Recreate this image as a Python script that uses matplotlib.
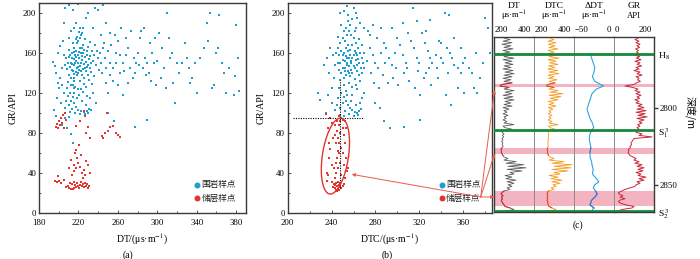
import numpy as np
import matplotlib
matplotlib.use('Agg')
import matplotlib.pyplot as plt
from matplotlib.patches import FancyArrowPatch
from matplotlib.ticker import FixedLocator

plt.rcParams['font.family'] = ['Liberation Serif', 'Noto Sans CJK SC']
plt.rcParams['mathtext.fontset'] = 'stix'

# ---------------- data: panel (a)  (DT, GR) ----------------
blue_a = [
    (212,150),(215,148),(218,152),(220,150),(222,147),(224,153),(226,149),(219,145),(221,155),(217,158),
    (223,160),(225,144),(227,156),(214,142),(216,139),(220,140),(228,151),(230,148),(213,155),(211,146),
    (218,162),(222,165),(226,163),(229,158),(231,154),(233,150),(210,138),(212,135),(216,132),(224,138),
    (228,142),(232,145),(235,152),(236,158),(234,162),(230,166),(225,168),(219,170),(215,165),(213,160),
    (209,150),(208,144),(211,158),(224,157),(220,158),(217,150),(223,150),(221,143),(219,138),(226,135),
    (230,138),(233,141),(238,148),(240,155),(239,162),(237,168),(232,171),(227,174),(222,175),(218,174),
    (214,170),(210,163),(207,155),(206,148),(221,161),(216,154),(225,160),(229,146),(213,149),(218,141),
    (215,135),(222,132),(226,129),(231,133),(236,137),(241,143),(243,150),(242,160),(245,165),(244,140),
    (220,172),(223,178),(221,181),(225,185),(219,176),(212,128),(217,126),(223,124),(228,126),(234,129),
    (213,143),(227,145),(224,165),(216,161),(210,156),(229,162),(232,157),(220,146),(218,156),(223,142),
    (208,125),(211,120),(214,116),(212,112),(210,108),(215,110),(218,106),(220,103),(223,102),(226,101),
    (229,102),(231,104),(228,108),(224,112),(219,115),(216,120),(221,118),(225,121),(209,117),(207,112),
    (206,105),(213,104),(217,100),(222,99),(227,99),(230,100),(233,103),(211,101),(205,120),(203,128),
    (215,125),(220,124),(232,115),(235,120),(238,110),(229,117),(209,131),(214,128),(206,95),(210,96),
    (194,151),(196,147),(197,140),(199,130),(200,125),(201,135),(203,145),(195,103),(197,97),(199,160),
    (201,167),(204,172),(198,115),(202,110),(205,158),(203,88),(208,85),(212,79),(214,70),
    (205,190),(206,205),(210,208),(214,203),(216,185),(218,190),(220,209),(222,185),(224,180),(228,195),
    (230,200),(235,185),(237,205),(240,203),(243,178),(248,190),(252,180),(245,208),(212,182),(210,175),
    (246,170),(250,162),(252,150),(255,145),(258,160),(260,172),(262,140),(265,150),(268,158),(270,165),
    (272,145),(275,135),(278,150),(280,160),(282,175),(285,145),(288,155),(290,150),(292,140),(295,160),
    (298,175),(300,152),(248,130),(250,120),(255,132),(260,128),(265,118),(270,130),(277,140),(283,182),
    (287,185),(293,170),(297,150),(257,178),(263,185),(268,175),(273,182),(248,145),(252,138),(247,155),
    (253,168),(258,150),(262,158),(266,142),(276,155),(281,148),(289,138),(294,132),(299,128),(256,92),
    (290,93),(277,86),(250,100),
    (302,180),(305,165),(307,145),(310,200),(312,175),(315,160),(316,130),(318,110),(320,150),(322,140),
    (328,170),(330,155),(332,145),(335,135),(338,150),(340,120),(343,155),(347,165),(350,190),(351,172),
    (353,200),(355,125),(358,128),(360,160),(362,165),(363,198),(366,150),(368,140),(370,120),(373,145),
    (378,118),(379,137),(380,188),(382,155),(383,122),(304,135),(309,125),(313,155),(325,150),(333,130),
]
red_a = [
    (207,26),(209,27),(210,25),(212,24),(214,24),(216,25),(218,26),(220,27),(222,28),(224,27),
    (226,26),(228,27),(230,25),(231,27),(221,25),(225,29),(213,29),(215,31),(211,30),(219,30),
    (223,31),(227,30),(229,29),(217,28),
    (196,32),(198,31),(200,32),(202,30),(199,37),(205,33),
    (213,38),(216,42),(218,45),(215,48),(220,50),(222,46),(224,40),(226,43),(228,52),(230,48),
    (219,55),(217,60),(218,63),(221,68),(223,58),(210,45),(212,53),(225,35),(227,38),(232,40),
    (197,86),(199,85),(201,88),(203,90),(202,95),(204,98),(206,100),(200,92),(198,89),(205,85),(207,93),
    (218,87),(222,92),(226,102),(227,97),(230,86),(228,80),(232,75),(245,75),(247,80),(250,82),
    (252,86),(255,87),(249,100),(258,80),(260,78),(262,76),(244,77),
]

# ---------------- data: panel (b)  (DTC, GR) ----------------
blue_b = [
    (248,150),(250,145),(252,152),(254,148),(256,155),(258,150),(260,147),(262,153),(251,160),(253,165),
    (255,162),(257,158),(259,168),(261,162),(263,158),(265,150),(249,140),(251,135),(253,138),(255,142),
    (257,137),(259,140),(261,134),(263,142),(265,138),(247,158),(246,165),(248,170),(250,175),(252,172),
    (254,178),(256,182),(258,178),(260,175),(262,170),(264,165),(266,160),(268,155),(267,145),(269,150),
    (252,145),(254,155),(256,147),(258,143),(260,158),(250,153),(255,168),(261,145),(263,148),(257,163),
    (249,162),(253,157),(259,155),(262,160),(264,154),(246,150),(247,143),(248,133),(251,128),(256,130),
    (259,126),(262,128),(266,132),(268,140),(270,145),(272,152),(270,160),(268,168),(265,174),(261,182),
    (257,188),(255,192),(259,194),(262,185),(253,185),(251,182),(249,188),(246,176),(244,160),(243,148),
    (250,158),(254,150),(258,152),(256,140),(252,142),
    (247,125),(249,120),(251,116),(253,112),(255,108),(257,105),(259,103),(261,101),(263,100),(265,102),
    (267,104),(262,108),(258,112),(254,118),(250,110),(248,105),(252,102),(256,99),(260,97),(264,98),
    (266,110),(268,115),(270,120),(246,115),(245,108),(251,97),(253,122),(259,118),(263,124),(248,98),
    (228,120),(229,113),(233,148),(236,155),(238,140),(240,125),(242,135),(239,165),(241,158),(237,118),
    (235,100),(243,103),(240,110),
    (251,202),(254,207),(257,210),(260,205),(262,200),(248,200),(255,198),(263,195),(266,190),(270,185),
    (273,182),(275,178),(278,188),(281,175),
    (275,165),(278,158),(280,150),(282,145),(285,160),(288,170),(290,165),(292,155),(295,148),(298,160),
    (300,175),(302,168),(305,158),(308,150),(310,180),(312,172),(315,165),(318,155),(320,150),(322,180),
    (325,170),(328,162),(330,155),(332,150),(335,158),(338,172),(340,155),(342,150),(345,165),(348,160),
    (350,155),(352,148),(355,145),(358,140),(360,150),(362,155),(365,145),(368,140),(370,125),(372,160),
    (375,135),(378,150),(380,195),(383,185),(384,160),(343,200),(347,198),(330,193),(314,205),(276,140),
    (279,130),(283,125),(287,138),(291,130),(296,135),(301,128),(306,140),(311,132),(316,125),(321,118),
    (326,140),(331,128),(337,135),(344,118),(349,108),(355,125),(361,120),(373,120),(284,105),(288,92),
    (293,85),(306,86),(321,93),(280,110),(285,185),(295,185),(305,190),(318,192),(326,182),(340,170),
    (352,175),(358,165),(336,145),(324,135),(299,145),(289,150),(309,145),(319,142),(329,145),(346,140),
]
red_b = [
    (241,26),(243,25),(244,23),(245,27),(246,24),(247,28),(248,26),(249,25),(250,27),(242,29),
    (244,30),(246,31),(248,30),(245,22),(243,28),(247,23),(251,29),(240,31),
    (243,35),(244,40),(246,45),(248,50),(245,55),(247,60),(249,65),(244,70),(246,75),(248,80),
    (250,85),(247,88),(245,92),(249,95),(243,88),(251,78),(252,70),(250,60),(253,55),(251,48),
    (254,42),(252,35),(249,38),(246,62),(244,50),(242,45),(247,70),(248,92),(250,93),(245,82),
    (243,78),(241,75),
    (236,32),(237,38),(238,55),(239,64),(240,48),(236,40),(238,70),(237,85),(240,90),(239,95),
    (235,99),(247,97),(252,92),(253,85),(255,45),
]
xticks_a = [180, 220, 260, 300, 340, 380]
xticks_b = [200, 240, 280, 320, 360]
yticks = [0, 40, 80, 120, 160, 200]

# ---------------- data: panel (c) well logs ----------------
depth_top, depth_bottom = 2755, 2867
dt_log = [250, 280, 245, 290, 240,
          285, 250, 295, 245, 280, 240, 285, 250, 300, 245,
          290, 255, 295, 250, 285, 245, 295, 255, 300, 250,
          290, 245, 285, 250, 290, 240, 230, 275, 250, 300,
          255, 290, 245, 295, 250, 300, 255, 285, 250, 290,
          245, 275, 250, 265, 245, 270, 250, 260, 245, 265,
          250, 300, 245, 255, 290, 245, 240, 250, 242, 248,
          240, 245, 238, 244, 240, 246, 240, 235, 238, 236,
          240, 245, 250, 270, 250, 310, 260, 350, 270, 360,
          265, 340, 280, 300, 255, 290, 260, 310, 265, 300,
          270, 290, 265, 280, 250, 240, 235, 245, 238, 242,
          236, 240, 245, 250, 255, 280, 300, 260]
dtc_log = [275, 300, 270, 310, 272,
           305, 275, 320, 270, 300, 272, 315, 275, 325, 270,
           310, 278, 320, 272, 305, 270, 318, 275, 325, 270,
           300, 272, 315, 275, 305, 270, 262, 300, 275, 320,
           280, 345, 275, 335, 280, 320, 272, 300, 275, 310,
           272, 295, 275, 285, 272, 290, 275, 285, 270, 290,
           275, 320, 272, 280, 305, 272, 270, 274, 271, 273,
           270, 272, 269, 271, 270, 272, 268, 266, 268, 266,
           270, 272, 280, 300, 275, 350, 290, 390, 300, 385,
           290, 370, 300, 330, 275, 320, 285, 340, 290, 330,
           295, 310, 285, 300, 272, 268, 265, 270, 266, 268,
           265, 270, 268, 272, 275, 290, 310, 280]
gr_log = [120, 105, 125, 110, 130,
          115, 128, 108, 122, 112, 125, 100, 128, 112, 135,
          105, 130, 115, 138, 110, 125, 100, 130, 115, 140,
          110, 125, 118, 132, 112, 100, 55, 95, 120, 105,
          130, 110, 135, 115, 128, 105, 125, 110, 140, 120,
          150, 115, 160, 110, 155, 120, 165, 115, 150, 125,
          140, 118, 130, 115, 125, 120, 110, 140, 125, 190,
          100, 95, 90, 85, 88, 80, 82, 72, 75, 70,
          74, 80, 95, 110, 100, 125, 105, 140, 115, 150,
          120, 145, 110, 135, 120, 160, 125, 150, 115, 130,
          110, 105, 80, 55, 40, 22, 25, 45, 30, 55,
          28, 22, 35, 60, 100, 90, 40, 20]
ddt_depth = [2765, 2768, 2771, 2774, 2777, 2780, 2783, 2786, 2788, 2791,
             2795, 2798, 2801, 2804, 2807, 2810, 2813, 2815, 2817, 2820,
             2823, 2826, 2829, 2832, 2835, 2837, 2840, 2843, 2846, 2848,
             2850, 2852, 2854, 2856, 2858, 2860, 2863, 2865, 2866]
ddt_log = [-29.6, -28, -26, -24, -25, -27, -24, -13, -22, -27.5,
           -30, -32, -33.7, -32, -30, -27, -25.4, -28, -30, -31,
           -30, -29, -30, -30, -28, -27.5, -26, -27, -22, -19,
           -24, -26, -23, -21, -24, -28, -30, -25, -27]
reservoir_bands = [(2784.5, 2786.8), (2826.3, 2830.0), (2854.2, 2864.0)]
horizons = [2765.0, 2814.8, 2867.0]
horizon_labels = [r'H$_8$', r'S$_1^{\,3}$', r'S$_2^{\,3}$']
depth_ticks = [2800, 2850]
track_names = ['DT', 'DTC', 'ΔDT', 'GR']
track_units = ['μs·m$^{-1}$', 'μs·m$^{-1}$', 'μs·m$^{-1}$', 'API']
track_ranges = [(200, 400), (200, 400), (-50, 0), (0, 200)]
legend_labels = ['围岩样点', '储层样点']

# ---------------- figure ----------------
W, H = 700, 259
fig = plt.figure(figsize=(W / 100, H / 100), dpi=100)

def box(x0, y0, x1, y1):
    return [x0 / W, 1 - y1 / H, (x1 - x0) / W, (y1 - y0) / H]

def fp(x, y):
    return (x / W, 1 - y / H)

BLUE = '#1c9fd0'
RED = '#e3352b'
SPINE = '#3a3a3a'
FS = 6.3

def scatter_panel(ax, blue, red, xlim, xt, xlabel, lx):
    bx, by = zip(*blue)
    rx, ry = zip(*red)
    ax.scatter(bx, by, s=3.0, marker='s', c=BLUE, linewidths=0, zorder=2)
    ax.scatter(rx, ry, s=3.0, marker='s', c=RED, linewidths=0, zorder=3)
    ax.set_xlim(*xlim)
    ax.set_ylim(0, 210)
    ax.xaxis.set_major_locator(FixedLocator(xt))
    ax.xaxis.set_minor_locator(FixedLocator([v + 20 for v in xt]))
    ax.yaxis.set_major_locator(FixedLocator(yticks))
    ax.yaxis.set_minor_locator(FixedLocator([v + 20 for v in yticks]))
    ax.tick_params(which='both', direction='in', top=False, right=False,
                   labelsize=FS, width=0.6, color=SPINE, pad=2)
    ax.tick_params(axis='x', which='major', pad=4.5)
    ax.tick_params(which='major', length=2.2)
    ax.tick_params(which='minor', length=1.2)
    for s in ax.spines.values():
        s.set_linewidth(1.0)
        s.set_color(SPINE)
    ax.set_xlabel(xlabel, fontsize=7, labelpad=3)
    ax.set_ylabel('GR/API', fontsize=7, labelpad=4)
    for i, (lab, col) in enumerate(zip(legend_labels, [BLUE, RED])):
        yy = 0.134 - i * 0.062
        ax.plot([lx], [yy], 'o', ms=4.3, color=col, mec='none',
                transform=ax.transAxes, clip_on=False, zorder=5)
        ax.text(lx + 0.022, yy, lab, fontsize=6.2, va='center', ha='left',
                transform=ax.transAxes, color='#222',
                family=['Noto Sans CJK SC'])

ax_a = fig.add_axes(box(39, 3.3, 246, 213))
scatter_panel(ax_a, blue_a, red_a, (180, 390), xticks_a, r'DT/(μs·m$^{-1}$)', 0.763)
fig.text(128 / W, 1 - 255 / H, '(a)', fontsize=7, ha='center', va='center')

ax_b = fig.add_axes(box(287.7, 3.3, 491.7, 213))
scatter_panel(ax_b, blue_b, red_b, (200, 386), xticks_b, r'DTC/(μs·m$^{-1}$)', 0.755)
fig.text(387 / W, 1 - 255 / H, '(b)', fontsize=7, ha='center', va='center')

# dotted guide lines and ellipse in (b)
gr_cut, dtc_cut = 95, 248
ax_b.plot([205, 270], [gr_cut, gr_cut], ls=(0, (1, 1.2)), color='k', lw=0.8, zorder=4)
ax_b.plot([dtc_cut, dtc_cut], [25, 133], ls=(0, (1, 1.2)), color='k', lw=0.8, zorder=4)
ell_cx, ell_cy, ell_rx, ell_ry, ell_shear = 243.5, 57, 12, 38, 4.6
t = np.linspace(0, 2 * np.pi, 200)
ax_b.plot(ell_cx + ell_rx * np.cos(t) + ell_shear * np.sin(t),
          ell_cy + ell_ry * np.sin(t), color=RED, lw=1.0, zorder=4)

# ---------------- panel (c) ----------------
depth = np.arange(depth_top, depth_bottom + 1)
track_x = [494, 534, 574, 614, 654]
ytop, ybot = 36.7, 212.3
dmin, dmax = 2754.1, 2867.8
axes_c = []
for i in range(4):
    ax = fig.add_axes(box(track_x[i], ytop, track_x[i + 1], ybot))
    ax.set_ylim(dmax, dmin)
    ax.set_xlim(*track_ranges[i])
    ax.set_xticks([])
    ax.set_yticks([])
    for name, s in ax.spines.items():
        s.set_linewidth(0.7)
        s.set_color('#8a8a8a')
    ax.spines['top'].set_color(SPINE)
    ax.spines['bottom'].set_color(SPINE)
    ax.spines['top'].set_linewidth(1.0)
    ax.spines['bottom'].set_linewidth(1.0)
    for b0, b1 in reservoir_bands:
        ax.axhspan(b0, b1, color='#f4b3c1', lw=0, zorder=0)
    for hd in horizons:
        ax.axhline(hd, color='#16883a', lw=2.0, zorder=5)
    axes_c.append(ax)
axes_c[0].spines['left'].set_color(SPINE)
axes_c[0].spines['left'].set_linewidth(1.0)
axes_c[3].spines['right'].set_color(SPINE)
axes_c[3].spines['right'].set_linewidth(1.0)

def in_band(d):
    d = np.asarray(d, dtype=float)
    m = np.zeros(d.shape, bool)
    for b0, b1 in reservoir_bands:
        m |= (d >= b0 - 1) & (d <= b1 + 1)
    return m

dt_arr = np.array(dt_log, float)
dtc_arr = np.array(dtc_log, float)
gr_arr = np.array(gr_log, float)
mask = in_band(depth)

axes_c[0].plot(dt_arr, depth, color='#5a5a5a', lw=0.6, zorder=3)
axes_c[0].plot(np.where(mask, dt_arr, np.nan), depth, color='#d8283a', lw=0.7, zorder=4)
axes_c[1].plot(dtc_arr, depth, color='#f39a1e', lw=0.6, zorder=3)
axes_c[1].plot(np.where(mask, dtc_arr, np.nan), depth, color='#e0402a', lw=0.7, zorder=4)
dd_d = np.array(ddt_depth, float)
dd_v = np.array(ddt_log, float)
axes_c[2].plot(dd_v, dd_d, color='#2aa6dc', lw=0.8, zorder=3)
mdd = in_band(dd_d)
axes_c[2].plot(np.where(mdd, dd_v, np.nan), dd_d, color='#4a6fc0', lw=0.8, zorder=4)
axes_c[3].plot(gr_arr, depth, color='#c8283a', lw=0.7, zorder=3)

# headers
for i in range(4):
    cx = (track_x[i] + track_x[i + 1]) / 2
    fig.text(cx / W, 1 - 6 / H, track_names[i], fontsize=6.8, ha='center', va='center')
    fig.text(cx / W, 1 - 16 / H, track_units[i], fontsize=6.2, ha='center', va='center')
    lo, hi = track_ranges[i]
    fig.text((track_x[i] + 0.5) / W, 1 - 30 / H, f'{lo:g}'.replace('-', '−'), fontsize=6.3,
             ha='left', va='center')
    fig.text((track_x[i + 1] - 2.5) / W, 1 - 30 / H, f'{hi:g}', fontsize=6.3,
             ha='right', va='center')

# depth axis on the right
axr = axes_c[3]
axr.yaxis.tick_right()
axr.set_yticks(depth_ticks)
axr.set_yticklabels([str(v) for v in depth_ticks])
axr.tick_params(axis='y', direction='out', length=3, width=1.0, color=SPINE,
                labelsize=6.3, pad=1)
fig.text(690 / W, 1 - 112 / H, '深度/m', rotation=270, fontsize=7.2,
         ha='center', va='center', family=['Noto Sans CJK SC', 'Liberation Serif'])
for hd, lab in zip(horizons, horizon_labels):
    yy = 1 - (ytop + (hd - dmin) / (dmax - dmin) * (ybot - ytop)) / H
    fig.text(658 / W, yy - 0.012, lab, fontsize=6.8, ha='left', va='center')
fig.text(578 / W, 1 - 225 / H, '(c)', fontsize=7, ha='center', va='center')

# arrows from legend in (b) to the reservoir samples and intervals
arrow_start = (480.7, 197.0)
arrow_ends = [(351.7, 174.3), (494.5, 90.0), (494.5, 154.0), (494.5, 197.0)]
for ex, ey in arrow_ends:
    arr = FancyArrowPatch(fp(*arrow_start), fp(ex, ey), transform=fig.transFigure,
                          arrowstyle='-|>', mutation_scale=5, color='#ec5a4c',
                          lw=0.7, shrinkA=0, shrinkB=0, zorder=10)
    fig.add_artist(arr)

fig.savefig('out.png', dpi=100, facecolor='white')
